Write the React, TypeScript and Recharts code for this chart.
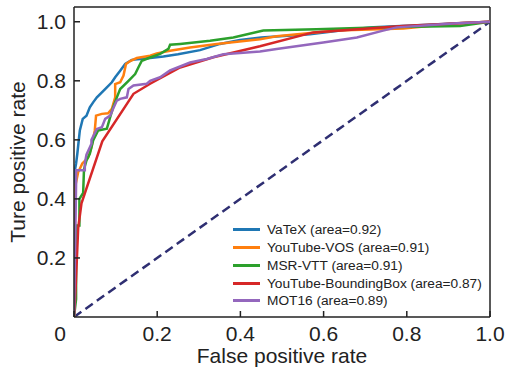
import React from 'react';
import { LineChart, Line, XAxis, YAxis, Legend, ReferenceLine } from 'recharts';

const FONT = '"Liberation Sans", Arial, sans-serif';

const seriesNames = ['VaTeX', 'YouTube-VOS', 'MSR-VTT', 'YouTube-BoundingBox', 'MOT16'];
const seriesAreas = ['0.92', '0.91', '0.91', '0.87', '0.89'];
const seriesColors = ['#1f77b4', '#ff7f0e', '#2ca02c', '#d62728', '#9467bd'];

const vatexFpr = [0, 0, 0.005, 0.008, 0.014, 0.021, 0.03, 0.038, 0.046, 0.055, 0.067, 0.079, 0.091, 0.099, 0.111, 0.123, 0.139, 0.159, 0.183, 0.215, 0.25, 0.303, 0.351, 0.399, 0.45, 0.567, 0.65, 0.72, 0.85, 1];
const vatexTpr = [0, 0.48, 0.52, 0.553, 0.632, 0.671, 0.682, 0.71, 0.727, 0.744, 0.761, 0.778, 0.795, 0.812, 0.834, 0.857, 0.871, 0.874, 0.877, 0.882, 0.89, 0.904, 0.925, 0.938, 0.947, 0.958, 0.972, 0.981, 0.99, 1];

const ytvosFpr = [0, 0, 0.004, 0.01, 0.02, 0.034, 0.042, 0.05, 0.053, 0.067, 0.082, 0.091, 0.099, 0.099, 0.111, 0.119, 0.125, 0.135, 0.151, 0.183, 0.199, 0.231, 0.279, 0.343, 0.447, 0.487, 0.631, 0.792, 0.92, 1];
const ytvosTpr = [0, 0.39, 0.45, 0.49, 0.52, 0.54, 0.575, 0.632, 0.682, 0.688, 0.69, 0.705, 0.744, 0.789, 0.795, 0.818, 0.857, 0.867, 0.877, 0.885, 0.893, 0.902, 0.913, 0.925, 0.941, 0.951, 0.97, 0.977, 0.995, 1];

const msrvttFpr = [0, 0.005, 0.005, 0.013, 0.013, 0.022, 0.024, 0.03, 0.038, 0.046, 0.058, 0.079, 0.087, 0.094, 0.103, 0.111, 0.131, 0.147, 0.155, 0.163, 0.183, 0.207, 0.227, 0.231, 0.255, 0.327, 0.383, 0.455, 0.583, 0.743, 0.928, 1];
const msrvttTpr = [0, 0.06, 0.31, 0.31, 0.4, 0.42, 0.5, 0.53, 0.553, 0.598, 0.632, 0.638, 0.677, 0.71, 0.744, 0.772, 0.8, 0.823, 0.846, 0.868, 0.879, 0.891, 0.908, 0.922, 0.925, 0.936, 0.947, 0.97, 0.975, 0.981, 0.986, 1];

const ytbbFpr = [0, 0.004, 0.01, 0.018, 0.068, 0.143, 0.183, 0.255, 0.335, 0.447, 0.575, 0.79, 1];
const ytbbTpr = [0, 0.1, 0.3, 0.385, 0.595, 0.756, 0.79, 0.845, 0.88, 0.917, 0.964, 0.986, 1];

const mot16Fpr = [0, 0.005, 0.005, 0.026, 0.026, 0.03, 0.042, 0.042, 0.055, 0.067, 0.075, 0.087, 0.094, 0.103, 0.111, 0.127, 0.131, 0.143, 0.175, 0.183, 0.207, 0.231, 0.279, 0.319, 0.359, 0.447, 0.487, 0.599, 0.68, 0.743, 0.776, 0.92, 1];
const mot16Tpr = [0, 0.45, 0.497, 0.497, 0.52, 0.55, 0.587, 0.6, 0.637, 0.643, 0.671, 0.682, 0.705, 0.733, 0.739, 0.744, 0.772, 0.784, 0.79, 0.8, 0.812, 0.835, 0.862, 0.874, 0.89, 0.899, 0.908, 0.93, 0.947, 0.97, 0.981, 0.995, 1];

const chanceFpr = [0, 1];
const chanceTpr = [0, 1];

const xTicks = [0, 0.2, 0.4, 0.6, 0.8, 1.0];
const yTicks = [0.2, 0.4, 0.6, 0.8, 1.0];

const toPoints = (xs: number[], ys: number[]) => xs.map((x, i) => ({ x, y: ys[i] }));

const seriesData = [
  toPoints(vatexFpr, vatexTpr),
  toPoints(ytvosFpr, ytvosTpr),
  toPoints(msrvttFpr, msrvttTpr),
  toPoints(ytbbFpr, ytbbTpr),
  toPoints(mot16Fpr, mot16Tpr),
];
const chanceData = toPoints(chanceFpr, chanceTpr);

const XTick = (props: any) => {
  const { x, y, payload } = props;
  const v = payload.value as number;
  return (
    <text x={v === 0 ? x - 14 : x} y={y} dy="0.71em" textAnchor="middle" fontSize={21} fill="#222" fontFamily={FONT}>
      {v === 0 ? '0' : v.toFixed(1)}
    </text>
  );
};

const YTick = (props: any) => {
  const { x, y, payload } = props;
  const v = payload.value as number;
  return (
    <text x={x} y={y} dy="0.355em" textAnchor="end" fontSize={21} fill="#222" fontFamily={FONT}>
      {v.toFixed(1)}
    </text>
  );
};

const XTitle = (props: any) => {
  const vb = props.viewBox;
  return (
    <text x={vb.x + vb.width / 2} y={vb.y + 46} textAnchor="middle" fontSize={21} fill="#222" fontFamily={FONT}>
      False positive rate
    </text>
  );
};

const YTitle = (props: any) => {
  const vb = props.viewBox;
  const cx = vb.x + 25;
  const cy = vb.y + vb.height / 2;
  return (
    <text x={cx} y={cy} transform={`rotate(-90, ${cx}, ${cy})`} textAnchor="middle" fontSize={21} fill="#222" fontFamily={FONT}>
      Ture positive rate
    </text>
  );
};

const renderLegend = () => (
  <div style={{ fontFamily: FONT, fontSize: 13.7, color: '#222' }}>
    {seriesNames.map((n, i) => (
      <div key={n} style={{ display: 'flex', alignItems: 'center', height: 17.75, whiteSpace: 'nowrap' }}>
        <span style={{ display: 'inline-block', width: 27, height: 3, background: seriesColors[i], marginRight: 7 }} />
        <span>{`${n} (area=${seriesAreas[i]})`}</span>
      </div>
    ))}
  </div>
);

export default function App() {
  return (
    <div style={{ position: 'absolute', left: 0, top: 0, width: 505, height: 369, background: '#fff' }}>
      <LineChart width={505} height={369} margin={{ top: 7, right: 15, bottom: 0, left: 0 }}>
        <XAxis
          dataKey="x"
          type="number"
          domain={[0, 1]}
          ticks={xTicks}
          allowDataOverflow
          height={52}
          tickSize={-6}
          tickMargin={15}
          tick={<XTick />}
          axisLine={{ stroke: '#222', strokeWidth: 1.5 }}
          tickLine={{ stroke: '#222', strokeWidth: 1.5 }}
          label={<XTitle />}
        />
        <YAxis
          dataKey="y"
          type="number"
          domain={[0, 1.05]}
          ticks={yTicks}
          allowDataOverflow
          width={74}
          tickSize={-6}
          tickMargin={14}
          tick={<YTick />}
          axisLine={{ stroke: '#222', strokeWidth: 1.5 }}
          tickLine={{ stroke: '#222', strokeWidth: 1.5 }}
          label={<YTitle />}
        />
        <ReferenceLine y={1.05} stroke="#222" strokeWidth={1.5} />
        <ReferenceLine x={1} stroke="#222" strokeWidth={1.5} />
        <Line
          data={chanceData}
          dataKey="y"
          type="linear"
          stroke="#2f2f72"
          strokeWidth={2.5}
          strokeDasharray="9 5"
          dot={false}
          isAnimationActive={false}
          legendType="none"
        />
        {seriesData.map((d, i) => (
          <Line
            key={seriesNames[i]}
            data={d}
            dataKey="y"
            name={`${seriesNames[i]} (area=${seriesAreas[i]})`}
            type="linear"
            stroke={seriesColors[i]}
            strokeWidth={2.5}
            dot={false}
            isAnimationActive={false}
          />
        ))}
        <Legend
          layout="vertical"
          align="center"
          verticalAlign="middle"
          content={renderLegend}
          wrapperStyle={{ left: 233, top: 221, width: 'auto', height: 'auto' }}
        />
      </LineChart>
    </div>
  );
}
